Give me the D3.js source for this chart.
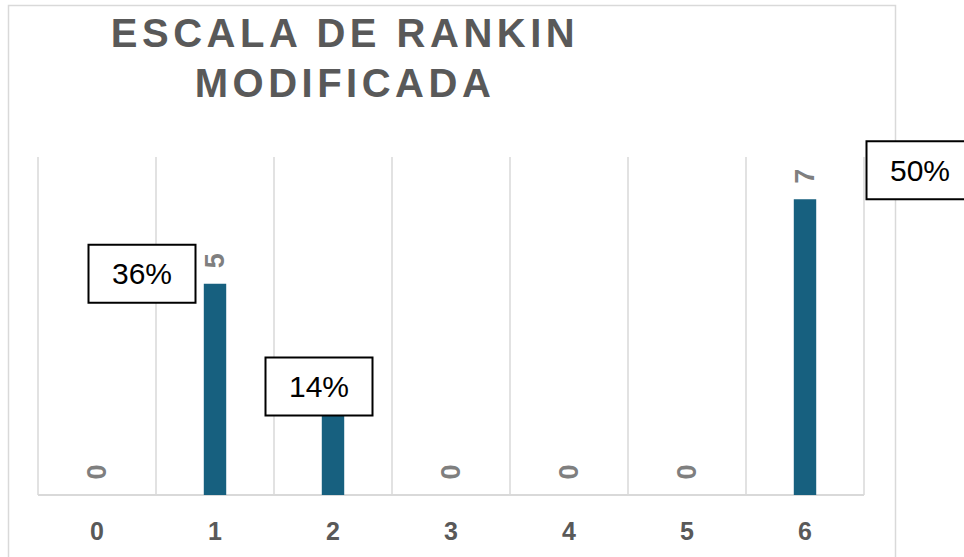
<!DOCTYPE html>
<html>
<head>
<meta charset="utf-8">
<script src="https://cdn.jsdelivr.net/npm/d3@7"></script>
<style>
  body { margin: 0; background: #fff; }
  svg { display: block; font-family: Arial, "Liberation Sans", sans-serif; }
</style>
</head>
<body>
<svg id="chart" width="964" height="557"></svg>
<script>
// chart values
const categories = ['0', '1', '2', '3', '4', '5', '6'];
const counts = [0, 5, 2, 0, 0, 0, 7];
const percentLabels = ['', '36%', '14%', '', '', '', '50%'];
const titleLines = ['ESCALA DE RANKIN', 'MODIFICADA'];

// manual placement of the percent boxes (offset from bar top / centre)
const boxOffsets = [null, [-73, -10], [-14, -24], null, null, null, [115, -29]];

const svg = d3.select('#chart');

const plotLeft = 38, plotRight = 864, plotTop = 157, plotBottom = 495;

const x = d3.scaleBand().domain(categories).range([plotLeft, plotRight]).padding(0);
const y = d3.scaleLinear().domain([0, 8]).range([plotBottom, plotTop]);

// outer frame
svg.append('rect')
    .attr('x', 8.5).attr('y', 5.5)
    .attr('width', 887).attr('height', 600)
    .style('fill', 'none')
    .style('stroke', '#d9d9d9')
    .style('stroke-width', 1.5);

// title
titleLines.forEach((t, i) => {
    svg.append('text')
        .text(t)
        .attr('x', 345)
        .attr('y', 47 + i * 50)
        .attr('text-anchor', 'middle')
        .style('font-size', '40px')
        .style('font-weight', 'bold')
        .style('letter-spacing', '4.5px')
        .style('fill', '#595959');
});

// vertical gridlines at category boundaries
const edges = categories.map(c => x(c)).concat([plotRight]);
svg.selectAll('.grid')
    .data(edges)
    .enter().append('line')
    .attr('class', 'grid')
    .attr('x1', d => d).attr('x2', d => d)
    .attr('y1', plotTop).attr('y2', plotBottom)
    .style('stroke', '#d9d9d9')
    .style('stroke-width', 1.5);

// baseline
svg.append('line')
    .attr('x1', plotLeft).attr('x2', plotRight)
    .attr('y1', plotBottom).attr('y2', plotBottom)
    .style('stroke', '#d9d9d9')
    .style('stroke-width', 2);

// bars
const barW = x.bandwidth() * 0.19;
svg.selectAll('.bar')
    .data(counts)
    .enter().append('rect')
    .attr('class', 'bar')
    .attr('x', (d, i) => x(categories[i]) + x.bandwidth() / 2 - barW / 2)
    .attr('y', d => y(d))
    .attr('width', barW)
    .attr('height', d => plotBottom - y(d))
    .style('fill', '#17607f');

// value labels (rotated)
svg.selectAll('.val')
    .data(counts)
    .enter().append('text')
    .attr('class', 'val')
    .text(d => d)
    .attr('transform', (d, i) => {
        const cx = x(categories[i]) + x.bandwidth() / 2;
        return `translate(${cx},${y(d) - 23}) rotate(-90)`;
    })
    .attr('text-anchor', 'middle')
    .attr('dominant-baseline', 'central')
    .style('font-size', '27px')
    .style('font-weight', 'bold')
    .style('fill', '#7f7f7f');

// category axis labels
svg.selectAll('.cat')
    .data(categories)
    .enter().append('text')
    .attr('class', 'cat')
    .text(d => d)
    .attr('x', d => x(d) + x.bandwidth() / 2)
    .attr('y', 540)
    .attr('text-anchor', 'middle')
    .style('font-size', '25px')
    .style('font-weight', 'bold')
    .style('fill', '#595959');

// percent boxes
percentLabels.forEach((p, i) => {
    if (!p) return;
    const cx = x(categories[i]) + x.bandwidth() / 2 + boxOffsets[i][0];
    const cy = y(counts[i]) + boxOffsets[i][1];
    const g = svg.append('g').attr('transform', `translate(${cx},${cy})`);
    g.append('rect')
        .attr('x', -53.5).attr('y', -29)
        .attr('width', 107).attr('height', 58)
        .style('fill', '#fff')
        .style('stroke', '#000')
        .style('stroke-width', 2);
    g.append('text')
        .text(p)
        .attr('text-anchor', 'middle')
        .attr('dominant-baseline', 'central')
        .style('font-size', '30px')
        .style('fill', '#000');
});
</script>
</body>
</html>
